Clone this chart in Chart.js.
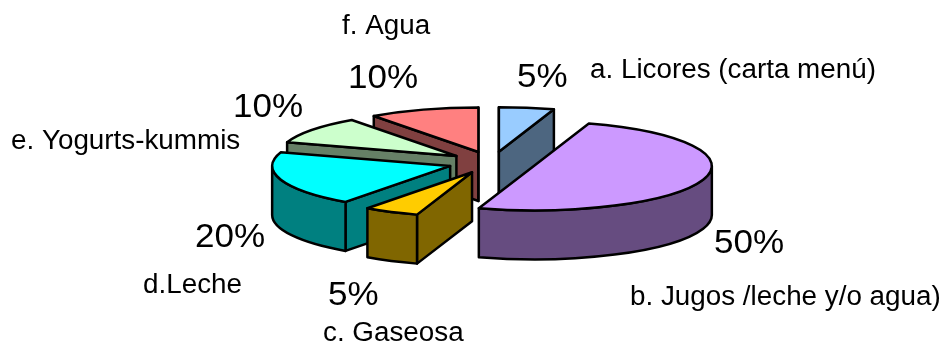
<!DOCTYPE html>
<html>
<head>
<meta charset="utf-8">
<style>
  html, body { margin: 0; padding: 0; background: #fff; }
  canvas { display: block; }
</style>
<script src="https://cdn.jsdelivr.net/npm/chart.js@4"></script>
</head>
<body>
<canvas id="bebidas" width="946" height="345"></canvas>
<script>
var categories = ['a. Licores (carta menú)', 'b. Jugos /leche y/o agua)', 'c. Gaseosa', 'd.Leche', 'e. Yogurts-kummis', 'f. Agua'];
var values = [5, 50, 5, 20, 10, 10];
var topColors = ['#99CCFF', '#CC99FF', '#FFCC00', '#00FFFF', '#CCFFCC', '#FF8080'];
var wallColors = ['#4D6680', '#664C80', '#806600', '#008080', '#668066', '#804040'];

// text anchors: left edge and baseline of [category, percent]
var categorySpots = [[590, 78], [630, 305], [323, 341], [143, 293], [11, 149], [342, 34]];
var percentSpots = [[517, 87], [714, 253], [328, 305], [195, 247], [233, 117], [348, 88]];

// back slices are painted first so the front ones cover them
var paintOrder = [0, 5, 4, 3, 2, 1];

var TILT = 0.25;
var DEPTH = 49;
var EXPLODE = 44;
var TEXT_STRETCH = 1.03;

function drawSlice( ctx, arc, i ) {
    var s = arc.startAngle, e = arc.endAngle, mid = ( s + e ) / 2, R = arc.outerRadius;
    var cx = arc.x + EXPLODE * Math.cos( mid );
    var cy = arc.y + EXPLODE * TILT * Math.sin( mid );

    ctx.lineWidth = 2.5;
    ctx.lineJoin = 'round';
    ctx.strokeStyle = '#000';
    ctx.fillStyle = wallColors[ i ];

    function cutFace( a ) {
        var x = cx + R * Math.cos( a ), y = cy + R * TILT * Math.sin( a );
        ctx.beginPath();
        ctx.moveTo( cx, cy );
        ctx.lineTo( x, y );
        ctx.lineTo( x, y + DEPTH );
        ctx.lineTo( cx, cy + DEPTH );
        ctx.closePath();
        ctx.fill();
        ctx.stroke();
    }

    // only the walls turned towards the viewer
    if ( Math.cos( s ) < 1e-9 ) cutFace( s );
    if ( Math.cos( e ) > -1e-9 ) cutFace( e );

    var lo = Math.max( s, 0 ), hi = Math.min( e, Math.PI );
    if ( lo < hi ) {
        ctx.beginPath();
        ctx.ellipse( cx, cy, R, R * TILT, 0, lo, hi );
        ctx.ellipse( cx, cy + DEPTH, R, R * TILT, 0, hi, lo, true );
        ctx.closePath();
        ctx.fill();
        ctx.stroke();
    }

    // top face: the arc element itself, flattened
    ctx.save();
    ctx.translate( cx, cy );
    ctx.scale( 1, TILT );
    ctx.translate( -arc.x, -arc.y );
    arc.draw( ctx );
    ctx.restore();

    // outline in screen space so the line width stays even
    ctx.beginPath();
    ctx.moveTo( cx, cy );
    ctx.ellipse( cx, cy, R, R * TILT, 0, s, e );
    ctx.closePath();
    ctx.stroke();
}

function drawText( ctx, text, spot, size ) {
    ctx.save();
    ctx.translate( spot[ 0 ], spot[ 1 ] );
    ctx.scale( TEXT_STRETCH, 1 );
    ctx.font = size + 'px "Liberation Sans", Arial, sans-serif';
    ctx.fillStyle = '#000';
    ctx.textBaseline = 'alphabetic';
    ctx.fillText( text, 0, 0 );
    ctx.restore();
}

var tiltedPie = {
    id: 'tiltedPie',
    beforeDatasetsDraw: function( chart ) {
        var ctx = chart.ctx, arcs = chart.getDatasetMeta( 0 ).data;
        paintOrder.forEach( function( i ) {
            drawSlice( ctx, arcs[ i ], i );
        } );
        categories.forEach( function( name, i ) {
            drawText( ctx, name, categorySpots[ i ], 27 );
            drawText( ctx, values[ i ] + '%', percentSpots[ i ], 34 );
        } );
        return false;
    }
};

new Chart( document.getElementById( 'bebidas' ).getContext( '2d' ), {
    type: 'pie',
    plugins: [ tiltedPie ],
    data: {
        labels: categories,
        datasets: [ {
            data: values,
            backgroundColor: topColors,
            borderWidth: 0,
            radius: 178
        } ]
    },
    options: {
        responsive: false,
        animation: false,
        events: [],
        layout: { padding: { left: 38, bottom: 20 } },
        plugins: {
            legend: { display: false },
            tooltip: { enabled: false }
        }
    }
} );
</script>
</body>
</html>
